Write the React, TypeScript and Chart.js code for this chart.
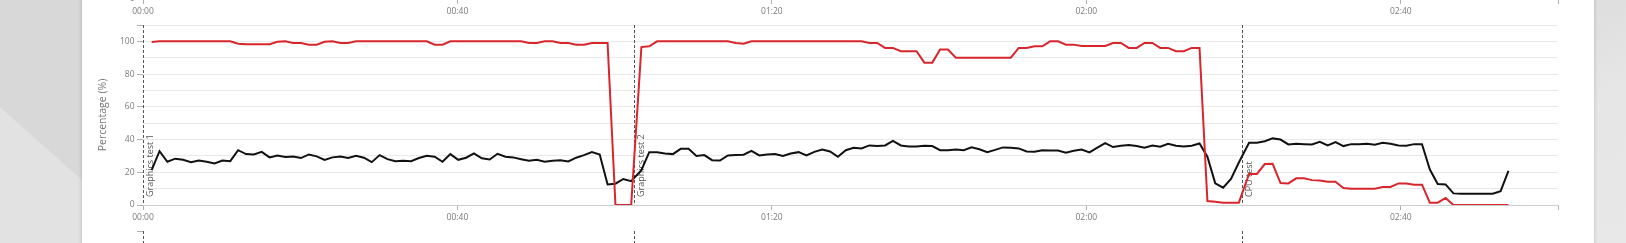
import React, { useEffect, useRef } from 'react';
import { Chart, registerables } from 'chart.js';

Chart.register(...registerables);

// elapsed time of each sample, in minutes
const minutes = [
  1.1, 2.1, 3.1, 4.1, 5.1, 6.1, 7.1, 8.1, 9.1, 10.1, 11.1, 12.1, 13.1, 14.1, 15.1, 16.1, 17.1, 18.1, 19.1, 20.1,
  21.1, 22.1, 23.1, 24.1, 25.1, 26.1, 27.1, 28.1, 29.1, 30.1, 31.1, 32.1, 33.1, 34.1, 35.1, 36.1, 37.1, 38.1, 39.1, 40.1,
  41.1, 42.1, 43.1, 44.1, 45.1, 46.1, 47.1, 48.1, 49.1, 50.1, 51.1, 52.1, 53.1, 54.1, 55.1, 56.1, 57.1, 58.1, 59.1, 60.1,
  61.1, 62.1,
  63.4, 64.4, 65.4, 66.4, 67.4, 68.4, 69.4, 70.4, 71.4, 72.4, 73.4, 74.4, 75.4, 76.4, 77.4, 78.4, 79.4, 80.4, 81.4, 82.4,
  83.4, 84.4, 85.4, 86.4, 87.4, 88.4, 89.4, 90.4, 91.4, 92.4, 93.4, 94.4, 95.4, 96.4, 97.4, 98.4, 99.4, 100.4, 101.4, 102.4,
  103.4, 104.4, 105.4, 106.4, 107.4, 108.4, 109.4, 110.4, 111.4, 112.4, 113.4, 114.4, 115.4, 116.4, 117.4, 118.4, 119.4, 120.4, 121.4, 122.4,
  123.4, 124.4, 125.4, 126.4, 127.4, 128.4, 129.4, 130.4, 131.4, 132.4, 133.4, 134.4, 135.4, 136.4, 137.4, 138.4, 139.4,
  140.7, 141.7, 142.7, 143.7, 144.7, 145.7, 146.7, 147.7, 148.7, 149.7, 150.7, 151.7, 152.7, 153.7, 154.7, 155.7, 156.7, 157.7, 158.7, 159.7,
  160.7, 161.7, 162.7, 163.7, 164.7, 165.7, 166.7, 167.7, 168.7, 169.7, 170.7, 171.7, 172.7, 173.7,
];

// black line
const cpuLoad = [
  21.3, 32.9, 26.4, 28.3, 27.6, 26.2, 27.2, 26.4, 25.4, 27.2, 26.8, 33.5, 31.1, 30.9, 32.5, 29.1, 30.3, 29.3, 29.7, 28.7,
  30.9, 29.7, 27.6, 29.1, 29.7, 28.7, 30.1, 28.9, 26.2, 30.5, 28.0, 26.8,
  27.0, 26.8, 28.7, 30.1, 29.5, 26.4, 31.1, 27.6, 28.9, 31.5, 28.5, 27.8, 31.3, 29.5, 29.1, 28.0, 27.0, 27.6,
  26.4, 27.0, 27.4, 26.6, 28.9, 30.5, 32.3, 30.9, 12.6, 13.0, 15.9, 14.6,
  21.3, 32.3, 32.3, 31.5, 31.1, 34.3, 34.3, 29.9, 30.5, 27.4, 27.2, 30.3, 30.5, 30.7, 33.1,
  30.3, 30.9, 31.1, 29.9, 31.5, 32.3, 30.3, 32.5, 33.9, 32.7, 29.5, 33.5, 35.0, 34.6, 36.4, 36.0, 36.4, 39.2, 36.4, 35.8,
  35.8, 36.2, 36.0, 33.5, 33.5, 33.9, 33.5, 35.2, 34.1, 32.3, 33.7, 35.2, 35.0, 34.6, 32.7, 32.5, 33.5, 33.3, 33.3, 31.9,
  33.1, 33.9, 32.1, 35.0, 37.8, 35.4, 36.2, 36.6, 36.0, 35.0, 36.4, 35.6, 37.4, 36.2, 35.8, 36.2, 37.6,
  29.5, 13.2, 10.6, 15.9, 26.0,
  38.0, 38.0, 39.0, 40.7, 40.0, 37.0, 37.4, 37.2, 37.0, 38.6, 36.4, 38.4, 36.0, 37.2, 37.2, 37.4, 36.8, 38.0, 37.4, 36.4,
  36.2, 37.2, 37.2, 21.7, 12.8, 12.6, 7.1, 6.9, 6.9, 6.9, 6.9, 6.9, 8.5, 20.9,
];

// red line
const gpuLoad = [
  99.6, 100, 100, 100, 100, 100, 100, 100, 100, 100, 100, 98.6, 98.2, 98.2, 98.2, 98.2, 99.8, 100, 99, 99,
  98, 98, 99.8, 100, 99, 99, 100, 100, 100, 100, 100, 100,
  100, 100, 100, 100, 98, 98, 100, 100, 100, 100, 100, 100, 100, 100, 100, 100, 99, 99,
  100, 100, 99, 99, 98, 98, 99, 99, 99, 0, 0, 0,
  96.5, 97, 100, 100, 100, 100, 100, 100, 100, 100, 100, 100, 99, 98.6, 100,
  100, 100, 100, 100, 100, 100, 100, 100, 100, 100, 100, 100, 100, 100, 99, 99, 96, 96, 94, 94,
  94, 87, 87, 95, 95, 90, 90, 90, 90, 90, 90, 90, 90, 96, 96, 97, 97, 100, 100, 98,
  98, 97.2, 97.2, 97.2, 97.2, 99, 99, 96, 96, 99, 99, 96, 96, 94, 94, 96, 96,
  2.4, 2.0, 1.4, 1.4, 1.4,
  19, 19, 25, 25.2, 13.4, 13.2, 16.3, 16.3, 15.2, 15.0, 14.2, 14.2, 10.4, 10, 10, 10, 10, 11, 11, 13.2,
  13.2, 12.4, 12.4, 1.4, 1.4, 4.3, 0, 0, 0, 0, 0, 0, 0, 0,
];

const markerNames = ['Graphics test 1', 'Graphics test 2', 'CPU test'];
const markerMinutes = [0, 62.5, 139.8];

const xTickValues = [0, 40, 80, 120, 160, 180];
const xLabelledTicks = [0, 40, 80, 120, 160];
const yMainMax = 110;
const yNextMax = 116;

const FONT = "'Open Sans', sans-serif";
const TICK_COLOR = '#7a7a7a';
const GRID_COLOR = '#e9e9e9';
const MARK_COLOR = '#b0b0b0';

const fmt = (v: number) => {
  const h = Math.floor(v / 60);
  const m = Math.round(v % 60);
  return `${String(h).padStart(2, '0')}:${String(m).padStart(2, '0')}`;
};

const markerPlugin = {
  id: 'markers',
  beforeDatasetsDraw(chart: any, _args: any, opts: any) {
    if (!opts || !opts.show) return;
    const { ctx, chartArea } = chart;
    const xs = chart.scales.x;
    ctx.save();
    markerMinutes.forEach((m, i) => {
      const x = Math.round(xs.getPixelForValue(m)) + 0.5;
      ctx.beginPath();
      ctx.setLineDash([3, 2]);
      ctx.strokeStyle = '#555';
      ctx.lineWidth = 1;
      ctx.moveTo(x, chartArea.top);
      ctx.lineTo(x, chartArea.bottom);
      ctx.stroke();
      if (opts.labels) {
        ctx.save();
        ctx.setLineDash([]);
        ctx.translate(x + 2.5, chartArea.bottom - 8);
        ctx.rotate(-Math.PI / 2);
        ctx.font = `9px ${FONT}`;
        ctx.fillStyle = '#555';
        ctx.textAlign = 'left';
        ctx.textBaseline = 'top';
        ctx.fillText(markerNames[i], 0, 0);
        ctx.restore();
      }
    });
    ctx.restore();
  },
};

function buildConfig(kind: 'main' | 'prev' | 'next'): any {
  const yMax = kind === 'next' ? yNextMax : yMainMax;
  const datasets =
    kind === 'main'
      ? [
          {
            label: 'GPU load',
            data: minutes.map((t, i) => ({ x: t, y: gpuLoad[i] })),
            borderColor: '#d8262d',
            borderWidth: 2,
            pointRadius: 0,
            tension: 0,
            fill: false,
          },
          {
            label: 'CPU load',
            data: minutes.map((t, i) => ({ x: t, y: cpuLoad[i] })),
            borderColor: '#111111',
            borderWidth: 2,
            pointRadius: 0,
            tension: 0,
            fill: false,
          },
        ]
      : [];
  return {
    type: 'line',
    data: { datasets },
    options: {
      animation: false,
      responsive: false,
      maintainAspectRatio: false,
      events: [],
      layout: { padding: { top: 25, right: 36, left: 0, bottom: 0 } },
      plugins: {
        legend: { display: false },
        tooltip: { enabled: false },
        markers: { show: kind !== 'prev', labels: kind === 'main' },
      },
      scales: {
        x: {
          type: 'linear',
          min: 0,
          max: 180,
          afterBuildTicks: (scale: any) => {
            scale.ticks = xTickValues.map((v) => ({ value: v }));
          },
          afterFit: (scale: any) => {
            scale.height = 38;
          },
          ticks: {
            autoSkip: false,
            maxRotation: 0,
            font: { family: FONT, size: 8.5 },
            color: TICK_COLOR,
            padding: 2,
            callback: (v: number) => (xLabelledTicks.includes(v) ? fmt(v) : ''),
          },
          grid: {
            drawOnChartArea: false,
            drawTicks: true,
            tickLength: 5,
            tickColor: MARK_COLOR,
          },
          border: { display: true, color: '#cfcfcf' },
        },
        y: {
          min: 0,
          max: yMax,
          afterFit: (scale: any) => {
            scale.width = 61;
          },
          ticks: {
            stepSize: 10,
            autoSkip: false,
            font: { family: FONT, size: 8.5 },
            color: TICK_COLOR,
            padding: 2.5,
            callback: (v: number) => (v % 20 === 0 && v <= 100 ? String(v) : ''),
          },
          grid: {
            color: (c: any) => (c.tick && c.tick.value === yNextMax ? 'rgba(0,0,0,0)' : GRID_COLOR),
            tickLength: 6,
            tickColor: (c: any) => {
              const v = c.tick ? c.tick.value : 0;
              return v % 20 === 0 || v === yMax ? MARK_COLOR : 'rgba(0,0,0,0)';
            },
          },
          border: { display: false },
          title: {
            display: kind === 'main',
            text: 'Percentage (%)',
            color: '#777',
            font: { family: FONT, size: 10.5 },
            padding: { top: 14.7, bottom: 0 },
          },
        },
      },
    },
    plugins: [markerPlugin],
  };
}

function ChartCanvas({ kind, top }: { kind: 'main' | 'prev' | 'next'; top: number }) {
  const ref = useRef<HTMLCanvasElement | null>(null);
  useEffect(() => {
    if (!ref.current) return;
    const chart = new Chart(ref.current, buildConfig(kind));
    return () => chart.destroy();
  }, [kind]);
  return (
    <canvas
      ref={ref}
      width={1512}
      height={243}
      style={{ position: 'absolute', left: 0, top, width: 1512, height: 243, display: 'block' }}
    />
  );
}

export default function App() {
  useEffect(() => {
    document.body.style.margin = '0';
  }, []);
  return (
    <div
      style={{
        position: 'relative',
        width: 1626,
        height: 243,
        overflow: 'hidden',
        background: '#dcdcdc',
        fontFamily: FONT,
      }}
    >
      <div
        style={{
          position: 'absolute',
          left: 0,
          top: 0,
          width: 90,
          height: 243,
          background: '#e2e2e2',
          clipPath: 'polygon(0 107px, 82px 180px, 82px 243px, 0 243px)',
        }}
      />
      <div
        style={{
          position: 'absolute',
          left: 0,
          top: 0,
          width: 90,
          height: 243,
          background: '#d8d8d8',
          clipPath: 'polygon(0 0, 82px 0, 82px 180px, 0 107px)',
        }}
      />
      <div
        style={{
          position: 'absolute',
          left: 1594,
          top: 0,
          width: 32,
          height: 243,
          background: 'linear-gradient(160deg, #dedede 0%, #e6e6e6 40%, #e8e8e8 100%)',
        }}
      />
      <div
        style={{
          position: 'absolute',
          left: 82,
          top: -10,
          width: 1512,
          height: 263,
          background: '#ffffff',
          boxShadow: '0 0 4px rgba(0,0,0,0.2)',
          overflow: 'hidden',
        }}
      >
        <div style={{ position: 'absolute', left: 0, top: 10, width: 1512, height: 243 }}>
          <ChartCanvas kind="prev" top={-206} />
          <ChartCanvas kind="main" top={0} />
          <ChartCanvas kind="next" top={206} />
        </div>
      </div>
    </div>
  );
}
